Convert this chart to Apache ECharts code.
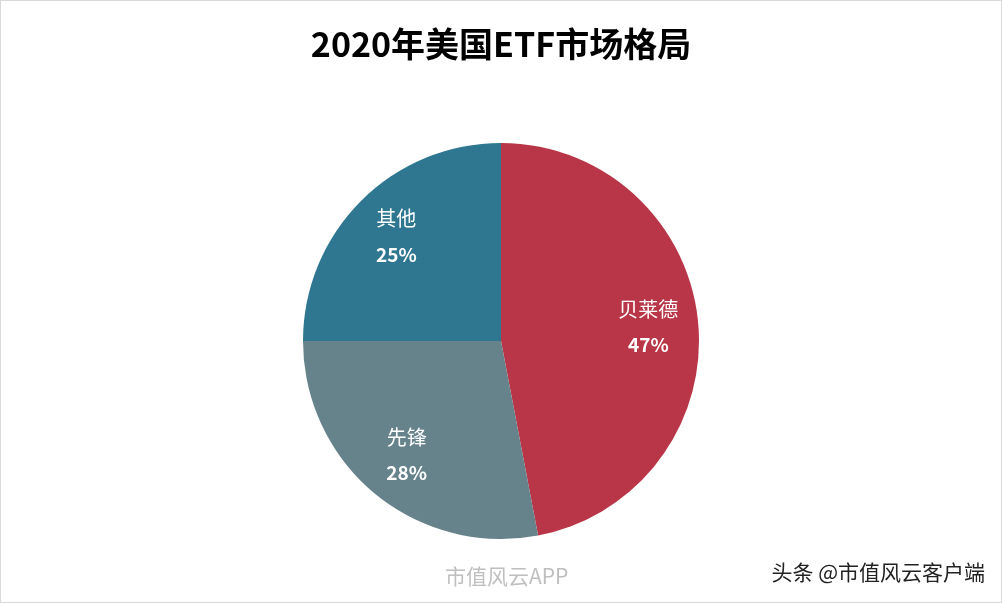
<!DOCTYPE html>
<html><head><meta charset="utf-8">
<script src="https://cdn.jsdelivr.net/npm/echarts@6/dist/echarts.min.js"></script>
<style>html,body{margin:0;padding:0;background:#fff}#c{width:1002px;height:603px;box-sizing:border-box;border:1px solid #d9d9d9}</style>
</head><body><div id="c"></div>
<script>
const names = ['贝莱德','先锋','其他'];
const values = [47,28,25];
const colors = ['#B83647','#66838C','#2F7691'];
const data = names.map((n,i)=>({name:n,value:values[i],itemStyle:{color:colors[i]}}));
const chart = echarts.init(document.getElementById('c'));
chart.setOption({
  backgroundColor:'#fff',
  title:{text:'2020年美国ETF市场格局',left:'center',top:21,textStyle:{fontFamily:'Noto Sans CJK SC',fontSize:34,fontWeight:'bold',color:'#000'}},
  series:[
    {type:'pie',center:[500,340],radius:[0,198],startAngle:90,clockwise:true,label:{show:false},labelLine:{show:false},data:data,
     itemStyle:{borderColor:'#fff',borderWidth:0},emphasis:{disabled:true}},
    {type:'pie',center:[500,340],radius:[0,290],startAngle:90,clockwise:true,silent:true,
     itemStyle:{color:'transparent'},
     label:{show:true,position:'inside',formatter:p=>'{n|'+p.name+'}\n{v|'+p.value+'%}',
       rich:{n:{color:'#fff',fontSize:20,lineHeight:36,fontFamily:'Noto Sans CJK SC'},v:{color:'#fff',fontSize:19,lineHeight:36,fontWeight:'bold',fontFamily:'Noto Sans CJK SC'}}},
     labelLine:{show:false},data:names.map((n,i)=>({name:n,value:values[i]}))}
  ],
  graphic:[
    {type:'text',left:444,top:565,style:{text:'市值风云APP',fill:'rgba(175,175,175,0.8)',font:'21px "Noto Sans CJK SC"'}},
    {type:'text',right:16,top:561,style:{text:'头条 @市值风云客户端',fill:'#222',font:'21px "Noto Sans CJK SC"'}}
  ]
});
</script></body></html>
